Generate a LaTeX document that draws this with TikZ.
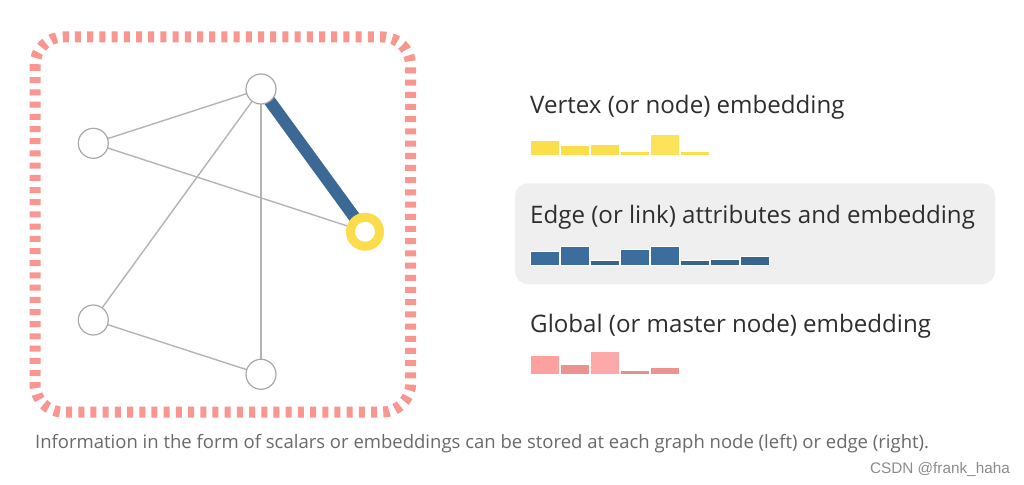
\documentclass[tikz,border=0pt]{standalone}
\usepackage{fontspec}
\setmainfont{Open Sans}
\newfontfamily\wmfont{Liberation Sans}
\definecolor{dashpink}{HTML}{F8968F}
\definecolor{edgegray}{HTML}{B4B4B4}
\definecolor{nodegray}{HTML}{A8A8A8}
\definecolor{blueedge}{HTML}{3B6895}
\definecolor{ringyellow}{HTML}{FCDC4A}
\definecolor{txtdark}{HTML}{2E2E2E}
\definecolor{captiongray}{HTML}{6A6A6A}
\definecolor{boxgray}{HTML}{EFEFEF}
\definecolor{yb}{HTML}{FADE4C}
\definecolor{ybl}{HTML}{FCE35A}
\definecolor{bb}{HTML}{3D6D9C}
\definecolor{bbd}{HTML}{386490}
\definecolor{pa}{HTML}{FCA0A0}
\definecolor{pb}{HTML}{EC928F}
\definecolor{pc}{HTML}{FDA9AA}
\definecolor{pd}{HTML}{E98E8E}
\pgfdeclarelayer{bglayer}
\pgfdeclarelayer{edgelayer}
\pgfsetlayers{bglayer,edgelayer,main}
\begin{document}
\begin{tikzpicture}[x=1pt,y=-1pt,
  gnode/.style={circle,draw=nodegray,line width=1.2pt,fill=white,minimum size=30pt,inner sep=0pt},
  ringnode/.style={circle,draw=ringyellow,line width=9pt,fill=white,minimum size=29pt,inner sep=0pt},
  gedge/.style={draw=edgegray,line width=1.4pt},
  hedge/.style={draw=blueedge,line width=12pt},
  heading/.style={anchor=base west,inner sep=0pt,text=txtdark,font=\fontsize{24.1}{28}\selectfont},
  barstyle/.style={draw=white,line width=0.8pt}]
\useasboundingbox (0,0) rectangle (1024,484);
\begin{pgfonlayer}{bglayer}
\fill[white] (0,0) rectangle (1024,484);
\draw[dashpink,line width=11pt,dash pattern=on 6pt off 6.2pt,rounded corners=28pt] (35,37) rectangle (410.5,412);
\fill[boxgray,rounded corners=13pt] (515,183.3) rectangle (995,284.3);
\end{pgfonlayer}
% graph nodes
\node[gnode] (t) at (261,89) {};
\node[gnode] (lu) at (93.3,143.3) {};
\node[gnode] (ll) at (93.3,320) {};
\node[gnode] (b) at (261,374.3) {};
\node[ringnode] (yn) at (365,231.7) {};
% edges behind nodes
\begin{pgfonlayer}{edgelayer}
\path[gedge] (t.center) -- (lu.center);
\path[gedge] (lu.center) -- (yn.center);
\path[gedge] (t.center) -- (ll.center);
\path[gedge] (t.center) -- (b.center);
\path[gedge] (ll.center) -- (b.center);
\path[hedge] (t.center) -- (yn.center);
\end{pgfonlayer}
% headings
\node[heading] (h1) at (530,113.3) {Vertex (or node) embedding};
\node[heading] (h2) at (530,223.3) {Edge (or link) attributes and embedding};
\node[heading] (h3) at (530,332.3) {Global (or master node) embedding};
% yellow bars
\foreach \i/\h/\c in {0/15/yb,1/10.7/yb,2/11.7/yb,3/4.7/yb,4/21.7/ybl,5/4.7/yb}
  \filldraw[barstyle,fill=\c] (530.5+30*\i,155.7) rectangle ++(29,-\h);
% blue bars
\foreach \i/\h/\c in {0/14.3/bb,1/19.3/bb,2/4.7/bbd,3/15.7/bb,4/19.3/bb,5/5.3/bbd,6/6.3/bbd,7/9/bbd}
  \filldraw[barstyle,fill=\c] (530.5+30*\i,265.3) rectangle ++(29,-\h);
% pink bars
\foreach \i/\h/\c in {0/18.7/pa,1/9.3/pb,2/23/pc,3/3.3/pd,4/7/pb}
  \filldraw[barstyle,fill=\c] (530.5+30*\i,374) rectangle ++(29,-\h);
% caption
\node[anchor=base west,inner sep=0pt,text=captiongray,font=\fontsize{18.5}{22}\selectfont] (cap) at (35,448.5) {Information in the form of scalars or embeddings can be stored at each graph node (left) or edge (right).};
\node[anchor=base east,inner sep=0pt,text=black!45,font=\wmfont\fontsize{15.3}{18}\selectfont] (wm) at (1010,473) {CSDN @frank\_haha};
\end{tikzpicture}
\end{document}
